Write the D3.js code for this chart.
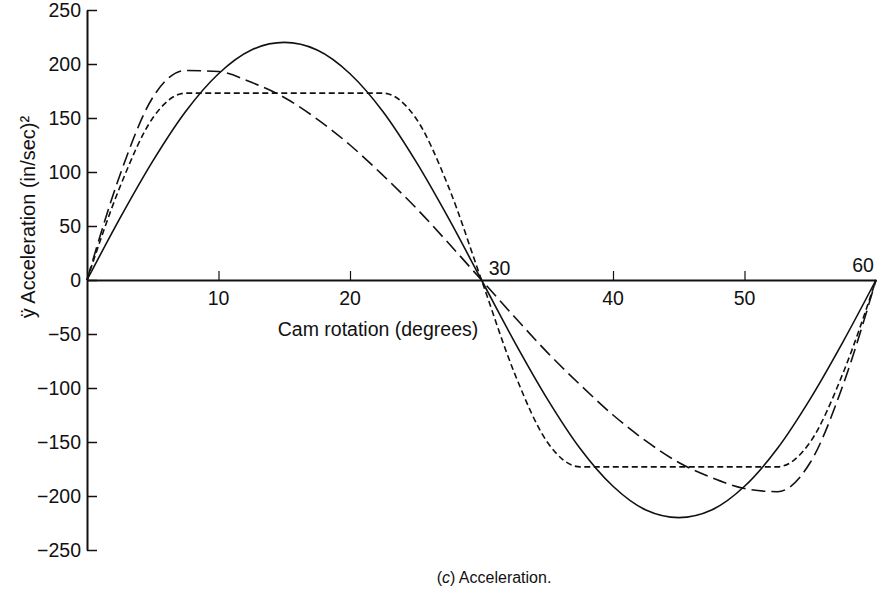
<!DOCTYPE html>
<html>
<head>
<meta charset="utf-8">
<script src="https://cdn.jsdelivr.net/npm/d3@7"></script>
<style>
  html, body { margin: 0; padding: 0; background: #fff; }
  svg { display: block; font-family: "Liberation Sans", Arial, sans-serif; }
</style>
</head>
<body>
<svg id="chart" width="877" height="595"></svg>
<script>
// ---- data ----
const angles = [0, 2.5, 5, 7.5, 10, 12.5, 15, 17.5, 20, 22.5, 25, 27.5, 30,
                32.5, 35, 37.5, 40, 42.5, 45, 47.5, 50, 52.5, 55, 57.5, 60];
const solidAccel = [0, 57, 110, 156, 191, 213, 220, 213, 191, 156, 110, 57, 0,
                    -57, -110, -156, -191, -213, -220, -213, -191, -156, -110, -57, 0];
const longDashAccel = [0, 97, 169, 194, 193, 183, 169, 149, 125, 97, 67, 34, 0,
                       -34, -67, -97, -125, -149, -169, -183, -193, -196, -169, -97, 0];
const shortDashAccel = [0, 86, 150, 173, 173, 173, 173, 173, 173, 173, 150, 86, 0,
                        -86, -150, -173, -173, -173, -173, -173, -173, -173, -150, -86, 0];
const yTicks = [250, 200, 150, 100, 50, 0, -50, -100, -150, -200, -250];
const xTicksBelow = [10, 20, 40, 50];
const xTicksAbove = [30, 60];

const svg = d3.select("#chart");
const x = d3.scaleLinear().domain([0, 60]).range([87, 876]);
const y = d3.scaleLinear().domain([-250, 250]).range([550, 10]);

const fmt = v => v < 0 ? "\u2212" + Math.abs(v) : String(v);
const FS = 19.5;

// y axis
const yAxis = d3.axisLeft(y).tickValues(yTicks).tickSizeInner(-10).tickSizeOuter(0).tickFormat("");
const gy = svg.append("g").attr("transform", `translate(${x(0)},0)`).call(yAxis);
gy.select(".domain").attr("stroke", "#111").attr("stroke-width", 2);
gy.selectAll(".tick line").attr("stroke", "#111").attr("stroke-width", 1.5);

svg.append("g").selectAll("text").data(yTicks).join("text")
  .attr("x", x(0) - 6).attr("y", d => y(d)).attr("dy", "0.36em")
  .attr("text-anchor", "end").style("font-size", FS + "px").attr("fill", "#111")
  .text(fmt);

// x axis along zero line
const xAxis = d3.axisBottom(x).tickValues([10, 20, 40, 50]).tickSizeInner(-9).tickSizeOuter(0).tickFormat("");
const gx = svg.append("g").attr("transform", `translate(0,${y(0)})`).call(xAxis);
gx.select(".domain").attr("stroke", "#111").attr("stroke-width", 2);
gx.selectAll(".tick line").attr("stroke", "#111").attr("stroke-width", 1.2);

svg.append("g").selectAll("text").data(xTicksBelow).join("text")
  .attr("x", d => x(d)).attr("y", y(0) + 25)
  .attr("text-anchor", "middle").style("font-size", FS + "px").attr("fill", "#111")
  .text(d => d);
svg.append("g").selectAll("text").data(xTicksAbove).join("text")
  .attr("x", d => x(d) + (d === 60 ? -13 : 18)).attr("y", d => y(0) - (d === 60 ? 8 : 5))
  .attr("text-anchor", "middle").style("font-size", FS + "px").attr("fill", "#111")
  .text(d => d);

// axis titles
svg.append("text").attr("x", 378).attr("y", 336).attr("text-anchor", "middle")
  .style("font-size", "19.5px").attr("fill", "#111").text("Cam rotation (degrees)");

svg.append("text").attr("transform", "translate(35,217) rotate(-90)")
  .attr("text-anchor", "middle").style("font-size", "20px").attr("fill", "#111")
  .text("ÿ Acceleration (in/sec)²");

const cap = svg.append("text").attr("x", 494).attr("y", 583).attr("text-anchor", "middle")
  .style("font-size", "16px").attr("fill", "#111");
cap.append("tspan").text("(");
cap.append("tspan").attr("font-style", "italic").text("c");
cap.append("tspan").text(") Acceleration.");

// curves
const line = vals => d3.line().x((d, i) => x(angles[i])).y(d => y(d)).curve(d3.curveMonotoneX)(vals);

svg.append("path").attr("d", line(solidAccel)).attr("fill", "none")
  .attr("stroke", "#111").attr("stroke-width", 1.6);
svg.append("path").attr("d", line(longDashAccel)).attr("fill", "none")
  .attr("stroke", "#111").attr("stroke-width", 1.6).attr("stroke-dasharray", "14,6");
svg.append("path").attr("d", line(shortDashAccel)).attr("fill", "none")
  .attr("stroke", "#111").attr("stroke-width", 1.6).attr("stroke-dasharray", "6,3.5");
</script>
</body>
</html>
